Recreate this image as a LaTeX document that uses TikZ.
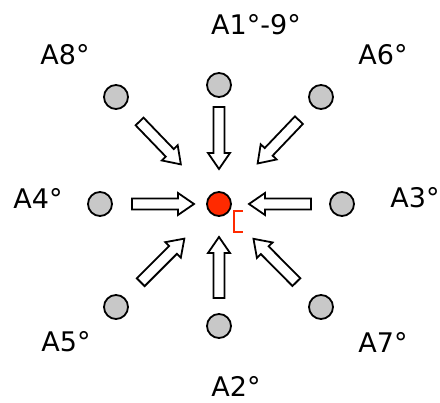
\documentclass[tikz,border=0pt]{standalone}
\usepackage{fontspec}
\setmainfont{DejaVu Sans}
\usetikzlibrary{
  calc,
  positioning
}
\definecolor{siteGray}{HTML}{C8C8C8}
\definecolor{siteRed}{HTML}{FF2A00}
\definecolor{siteInk}{HTML}{000000}
\tikzset{
  siteDot/.style={
    circle,
    draw=siteInk,
    line width=1.8pt,
    fill=siteGray,
    minimum size=24pt,
    inner sep=0pt
  },
  coreDot/.style={siteDot, fill=siteRed},
  siteLabel/.style={
    font=\fontsize{27}{29}\selectfont,
    inner sep=0pt
  },
  hollowArrow/.style={draw=siteInk, line width=1.8pt, fill=white, line join=miter},
  coreMark/.style={draw=siteRed, line width=2pt}
}

\begin{document}
\begin{tikzpicture}[x=1pt,y=1pt]
  \useasboundingbox (-219,-199) rectangle (221,204);

  \node[coreDot] (core) at (0,0) {};
  \node[siteDot] (a1) at (0,119) {};
  \node[siteDot] (a2) at (0,-122) {};
  \node[siteDot] (a3) at (123,0) {};
  \node[siteDot] (a4) at (-119,0) {};
  \node[siteDot] (a5) at (-103,-103) {};
  \node[siteDot] (a6) at (102,107) {};
  \node[siteDot] (a7) at (102,-103) {};
  \node[siteDot] (a8) at (-103,107) {};

  \node[siteLabel] (l1) at (37,179) {A1°-9°};
  \node[siteLabel] (l2) at (17,-182) {A2°};
  \node[siteLabel] (l3) at (196,6) {A3°};
  \node[siteLabel] (l4) at (-181,6) {A4°};
  \node[siteLabel] (l5) at (-153,-138) {A5°};
  \node[siteLabel] (l6) at (164,149) {A6°};
  \node[siteLabel] (l7) at (164,-138) {A7°};
  \node[siteLabel] (l8) at (-154,149) {A8°};

  \foreach \src/\tgap/\pgap in {a1/22pt/35pt, a2/28pt/33pt, a3/31pt/30pt,
      a4/32pt/25pt, a5/35pt/49pt, a6/32pt/56pt, a7/35pt/49pt, a8/34pt/55pt} {
    \path ($(\src.center)!\tgap!(core.center)$) coordinate (t)
          ($(core.center)!\pgap!(\src.center)$) coordinate (p)
          ($(p)!16pt!(t)$) coordinate (h);
    \draw[hollowArrow] ($(t)!5.5pt!90:(p)$) -- ($(h)!5.5pt!90:(p)$)
      -- ($(h)!11pt!90:(p)$) -- (p) -- ($(h)!11pt!-90:(p)$)
      -- ($(h)!5.5pt!-90:(p)$) -- ($(t)!5.5pt!-90:(p)$) -- cycle;
  }

  \draw[coreMark] ([shift={(24,-7)}]core.center) -- ++(-9,0) -- ++(0,-21) -- ++(9,0);
\end{tikzpicture}
\end{document}
